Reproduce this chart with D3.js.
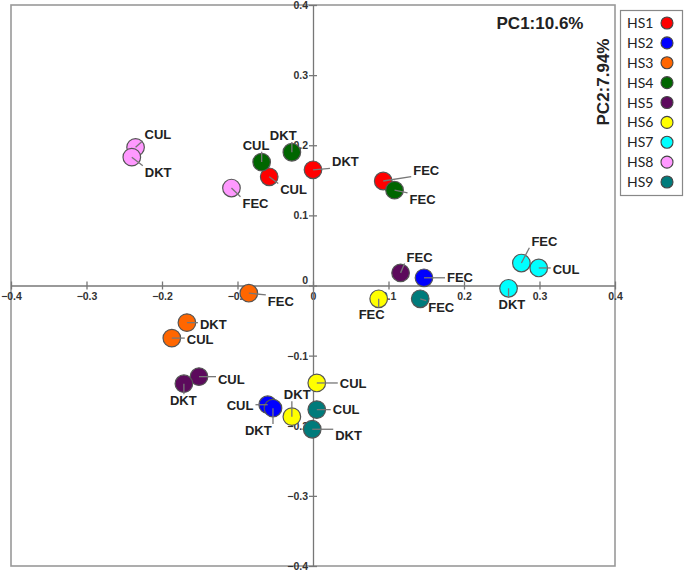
<!DOCTYPE html>
<html><head><meta charset="utf-8">
<script src="https://cdn.jsdelivr.net/npm/d3@7"></script>
<style>body{margin:0;background:#fff}</style>
</head><body>
<svg id="c" width="685" height="573"></svg>
<script>
const groups = ["HS1","HS2","HS3","HS4","HS5","HS6","HS7","HS8","HS9"];
const colors = ["#ff0000","#0000ff","#ff6600","#006600","#5c0a5c","#ffff00","#00ffff","#ff99ff","#007b7b"];
const sampleTypes = ["CUL","DKT","FEC"];
// PC1 / PC2 scores per group, order CUL, DKT, FEC
const pc1 = {
  HS1:[-0.058, 0.000, 0.093],
  HS2:[-0.060,-0.053, 0.147],
  HS3:[-0.187,-0.167,-0.085],
  HS4:[-0.068,-0.028, 0.108],
  HS5:[-0.151,-0.171, 0.116],
  HS6:[ 0.005,-0.028, 0.087],
  HS7:[ 0.299, 0.259, 0.276],
  HS8:[-0.235,-0.240,-0.108],
  HS9:[ 0.005,-0.001, 0.142]
};
const pc2 = {
  HS1:[ 0.155, 0.165, 0.149],
  HS2:[-0.170,-0.175, 0.011],
  HS3:[-0.075,-0.053,-0.011],
  HS4:[ 0.176, 0.190, 0.136],
  HS5:[-0.130,-0.140, 0.018],
  HS6:[-0.139,-0.187,-0.019],
  HS7:[ 0.025,-0.004, 0.032],
  HS8:[ 0.197, 0.183, 0.139],
  HS9:[-0.177,-0.205,-0.019]
};
const xTicks = [-0.4,-0.3,-0.2,-0.1,0,0.1,0.2,0.3,0.4];
const yTicks = [-0.4,-0.3,-0.2,-0.1,0,0.1,0.2,0.3,0.4];
const xTitle = "PC1:10.6%";
const yTitle = "PC2:7.94%";
// label placement (pixel offsets of label's left/middle from point), styling only
const labelOffsets = {
  HS1:[[11,13],[19,-8],[30,-11]],
  HS2:[[-41,1],[-28,22],[23,0]],
  HS3:[[15,1],[13,2],[19,8]],
  HS4:[[-19,-17],[-22,-17],[15,9]],
  HS5:[[19,3],[-14,17],[6,-16]],
  HS6:[[23,0],[-8,-22],[-20,15]],
  HS7:[[14,1],[-10,16],[10,-22]],
  HS8:[[9,-13],[13,15],[11,15]],
  HS9:[[16,0],[23,6],[8,8]]
};

const svg = d3.select("#c");
const x = d3.scaleLinear().domain([-0.4,0.4]).range([11,615]);
const y = d3.scaleLinear().domain([-0.4,0.4]).range([566,5]);
const fmt = d => d===0 ? "0" : d3.format(".1f")(d);

// frame
svg.append("rect").attr("x",x(-0.4)).attr("y",y(0.4))
  .attr("width",x(0.4)-x(-0.4)).attr("height",y(-0.4)-y(0.4))
  .attr("fill","none").attr("stroke","#999").attr("stroke-width",1.6);

// x axis through origin
const xa = svg.append("g").attr("transform",`translate(0,${y(0)})`)
  .call(d3.axisBottom(x).tickValues(xTicks).tickFormat(fmt).tickSizeInner(0).tickSizeOuter(0).tickPadding(7));
xa.select(".domain").attr("stroke","#777").attr("stroke-width",1.3);
xa.selectAll(".tick").append("line").attr("y1",-4).attr("y2",4).attr("stroke","#777").attr("stroke-width",1.3);
xa.selectAll("text").attr("font-family","Liberation Sans, Arial").attr("font-weight","bold").attr("font-size",10.5).attr("fill","#333");

const ya = svg.append("g").attr("transform",`translate(${x(0)},0)`)
  .call(d3.axisLeft(y).tickValues(yTicks).tickFormat(fmt).tickSizeInner(0).tickSizeOuter(0).tickPadding(5));
ya.select(".domain").attr("stroke","#777").attr("stroke-width",1.3);
ya.selectAll(".tick").append("line").attr("x1",-4).attr("x2",4).attr("stroke","#777").attr("stroke-width",1.3);
ya.selectAll("text").attr("font-family","Liberation Sans, Arial").attr("font-weight","bold").attr("font-size",10.5).attr("fill","#333");
ya.selectAll(".tick").filter(d=>d===0).select("text").attr("dy","-0.2em");

// points
const pts = [];
groups.forEach((g,gi)=>{
  sampleTypes.forEach((s,si)=>{
    pts.push({g, s, color:colors[gi], x:pc1[g][si], y:pc2[g][si], off:labelOffsets[g][si]});
  });
});

const pg = svg.append("g");
pg.selectAll("circle").data(pts).join("circle")
  .attr("cx",d=>x(d.x)).attr("cy",d=>y(d.y)).attr("r",8.8)
  .attr("fill",d=>d.color).attr("stroke","#555").attr("stroke-width",1.2);

// labels + leaders
const lg = svg.append("g");
pts.forEach(d=>{
  const cx = x(d.x), cy = y(d.y);
  const tx = cx + d.off[0], ty = cy + d.off[1];
  const t = lg.append("text").attr("x",tx).attr("y",ty).attr("dy","0.36em")
    .attr("font-family","Liberation Sans, Arial").attr("font-weight","bold").attr("font-size",13)
    .attr("fill","#222").text(d.s);
  const bb = t.node().getBBox();
  const x0 = bb.x-2, x1 = bb.x+bb.width+2, y0 = bb.y+1, y1 = bb.y+bb.height-1;
  const ex = Math.max(x0, Math.min(cx, x1));
  const ey = Math.max(y0, Math.min(cy, y1));
  lg.insert("line","text").attr("x1",cx).attr("y1",cy).attr("x2",ex).attr("y2",ey)
    .attr("stroke","#777").attr("stroke-width",1.3);
});

// titles
svg.append("text").attr("x",540).attr("y",29).attr("text-anchor","middle")
  .attr("font-family","Liberation Sans, Arial").attr("font-weight","bold").attr("font-size",17)
  .attr("fill","#222").text(xTitle);
svg.append("text").attr("transform","translate(609,82) rotate(-90)").attr("text-anchor","middle")
  .attr("font-family","Liberation Sans, Arial").attr("font-weight","bold").attr("font-size",17)
  .attr("fill","#222").text(yTitle);

// legend
const leg = svg.append("g");
leg.append("rect").attr("x",620.5).attr("y",10.5).attr("width",62).attr("height",185)
  .attr("fill","#fff").attr("stroke","#888").attr("stroke-width",1.2);
const ly = d3.scalePoint().domain(groups).range([23,182]);
groups.forEach((g,i)=>{
  leg.append("text").attr("x",627).attr("y",ly(g)).attr("dy","0.36em")
    .attr("font-family","Lato, Carlito, sans-serif").attr("font-size",14).attr("fill","#222").text(g);
  leg.append("circle").attr("cx",667).attr("cy",ly(g)).attr("r",6)
    .attr("fill",colors[i]).attr("stroke","#444").attr("stroke-width",1.1);
});
</script>
</body></html>
